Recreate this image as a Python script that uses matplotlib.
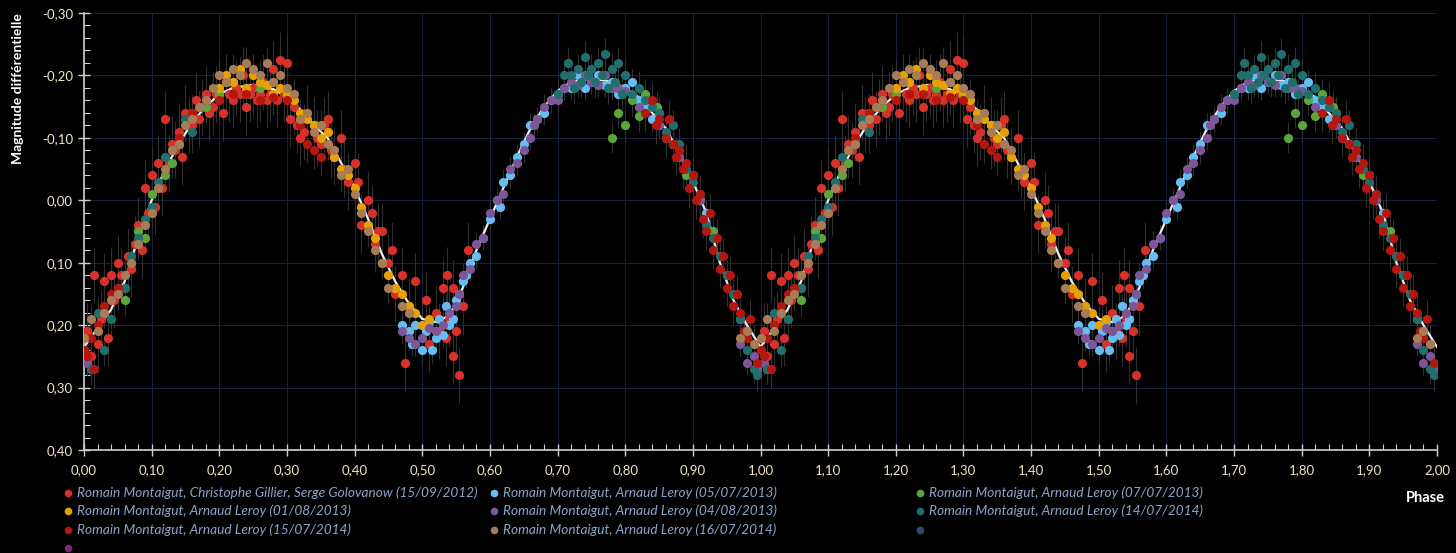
import matplotlib
matplotlib.use("Agg")
from matplotlib import pyplot as plt
from matplotlib.ticker import MultipleLocator, FuncFormatter
from matplotlib.lines import Line2D

# mean light curve (white line), phase 0..1, repeated for 1..2
fit_phase = [0.00, 0.02, 0.04, 0.06, 0.08, 0.10, 0.12, 0.14, 0.16, 0.18, 0.20, 0.22, 0.25,
             0.28, 0.30, 0.32, 0.34, 0.36, 0.38, 0.40, 0.42, 0.44, 0.46, 0.48, 0.50, 0.52,
             0.54, 0.56, 0.58, 0.60, 0.62, 0.64, 0.66, 0.68, 0.70, 0.72, 0.75, 0.78, 0.80,
             0.82, 0.84, 0.86, 0.88, 0.90, 0.92, 0.94, 0.96, 0.98, 1.00]
fit_mag = [0.235, 0.205, 0.175, 0.13, 0.06, 0.00, -0.05, -0.09, -0.125, -0.15, -0.17, -0.18, -0.185,
           -0.178, -0.165, -0.145, -0.12, -0.10, -0.06, -0.02, 0.03, 0.085, 0.13, 0.165, 0.19, 0.195,
           0.185, 0.14, 0.08, 0.03, -0.02, -0.07, -0.115, -0.15, -0.175, -0.19, -0.195, -0.19, -0.18,
           -0.165, -0.14, -0.115, -0.075, -0.03, 0.02, 0.10, 0.16, 0.20, 0.235]

# observing sessions (phase, differential magnitude)
red2012_phase = [0.005, 0.01, 0.015, 0.02, 0.025, 0.03, 0.035, 0.04, 0.045, 0.05, 0.055, 0.06, 0.065,
                 0.07, 0.075, 0.08, 0.085, 0.09, 0.095, 0.10, 0.105, 0.11, 0.115, 0.12, 0.125, 0.13,
                 0.14, 0.145, 0.15, 0.16, 0.165, 0.17, 0.18, 0.19, 0.20, 0.205, 0.21, 0.22, 0.23,
                 0.235, 0.24, 0.25, 0.26, 0.265, 0.27, 0.28, 0.285, 0.29, 0.295, 0.30, 0.305, 0.31,
                 0.32, 0.33, 0.34, 0.35, 0.36, 0.37, 0.38, 0.39, 0.40, 0.41, 0.42, 0.43, 0.44, 0.45,
                 0.46, 0.47, 0.475, 0.48, 0.49, 0.50, 0.505, 0.51, 0.52, 0.525, 0.53, 0.535, 0.537,
                 0.54, 0.545, 0.545, 0.55, 0.555, 0.56, 0.568,
                 0.135, 0.155, 0.175, 0.185, 0.195, 0.215, 0.225, 0.245, 0.255, 0.275, 0.315, 0.325,
                 0.345, 0.355, 0.365, 0.385, 0.405, 0.425, 0.435, 0.455]
red2012_mag = [0.21, 0.25, 0.12, 0.23, 0.19, 0.13, 0.22, 0.12, 0.16, 0.10, 0.12, 0.14, 0.09,
               0.11, 0.07, 0.04, 0.08, -0.02, 0.02, -0.04, 0.01, -0.06, -0.02, -0.13, -0.06, -0.09,
               -0.11, -0.07, -0.14, -0.12, -0.16, -0.13, -0.17, -0.15, -0.18, -0.14, -0.19, -0.16, -0.17,
               -0.20, -0.15, -0.18, -0.17, -0.19, -0.16, -0.21, -0.16, -0.225, -0.17, -0.22, -0.13, -0.15,
               -0.10, -0.14, -0.12, -0.09, -0.13, -0.07, -0.10, -0.03, -0.06, 0.04, 0.00, 0.07, 0.05, 0.10,
               0.15, 0.12, 0.26, 0.17, 0.13, 0.20, 0.16, 0.23, 0.18, 0.21, 0.14, 0.22, 0.12,
               0.19, 0.25, 0.14, 0.21, 0.28, 0.17, 0.08,
               -0.08, -0.12, -0.15, -0.14, -0.17, -0.17, -0.18, -0.17, -0.16, -0.17, -0.12, -0.11,
               -0.10, -0.12, -0.08, -0.05, -0.03, 0.02, 0.05, 0.08]

lblue_phase = [0.47, 0.48, 0.485, 0.49, 0.50, 0.505, 0.51, 0.515, 0.52, 0.525, 0.53, 0.535, 0.54,
               0.545, 0.55, 0.555, 0.56, 0.565, 0.57, 0.58, 0.59, 0.60, 0.61, 0.615, 0.62, 0.63,
               0.64, 0.65, 0.66, 0.67, 0.68, 0.69, 0.70, 0.71, 0.72, 0.73, 0.74, 0.75, 0.76, 0.77,
               0.78, 0.79, 0.80, 0.81, 0.82, 0.83, 0.84, 0.85, 0.86, 0.87, 0.90, 0.92]
lblue_mag = [0.20, 0.21, 0.23, 0.20, 0.24, 0.21, 0.195, 0.24, 0.22, 0.19, 0.215, 0.17, 0.20,
             0.19, 0.16, 0.15, 0.13, 0.12, 0.10, 0.09, 0.06, 0.03, 0.00, 0.01, -0.03, -0.04,
             -0.07, -0.09, -0.12, -0.13, -0.14, -0.16, -0.17, -0.18, -0.18, -0.20, -0.18, -0.19, -0.20, -0.185,
             -0.19, -0.17, -0.18, -0.19, -0.16, -0.15, -0.13, -0.12, -0.10, -0.09, -0.04, 0.02]

green_phase = [0.06, 0.08, 0.09, 0.10, 0.12, 0.13, 0.14, 0.16, 0.18, 0.20, 0.22, 0.24, 0.26, 0.28,
               0.30, 0.32, 0.34, 0.78, 0.79, 0.80, 0.81, 0.82, 0.83, 0.847, 0.85, 0.87, 0.89, 0.91,
               0.93, 0.95, 0.97]
green_mag = [0.16, 0.05, 0.06, -0.01, -0.04, -0.06, -0.09, -0.14, -0.15, -0.17, -0.19, -0.17, -0.18, -0.19,
             -0.17, -0.13, -0.12, -0.10, -0.14, -0.12, -0.16, -0.135, -0.17, -0.15, -0.14, -0.09, -0.04, 0.00,
             0.05, 0.12, 0.19]

orange_phase = [0.20, 0.21, 0.22, 0.23, 0.24, 0.25, 0.26, 0.27, 0.28, 0.29, 0.30, 0.31, 0.32, 0.33,
                0.34, 0.35, 0.36, 0.37, 0.38, 0.39, 0.40, 0.41, 0.42, 0.43, 0.44, 0.45, 0.46, 0.47,
                0.48, 0.49, 0.50, 0.51, 0.52]
orange_mag = [-0.18, -0.20, -0.19, -0.21, -0.18, -0.20, -0.19, -0.185, -0.17, -0.18, -0.17, -0.16, -0.14, -0.13,
              -0.12, -0.10, -0.11, -0.07, -0.05, -0.04, -0.02, 0.01, 0.04, 0.06, 0.10, 0.12, 0.14, 0.15,
              0.17, 0.18, 0.20, 0.19, 0.21]

purple_phase = [0.47, 0.48, 0.49, 0.50, 0.51, 0.52, 0.53, 0.54, 0.55, 0.555, 0.56, 0.57, 0.58, 0.59,
                0.60, 0.61, 0.62, 0.63, 0.64, 0.65, 0.66, 0.665, 0.67, 0.68, 0.69, 0.70, 0.71, 0.72,
                0.73, 0.74, 0.75, 0.76, 0.77, 0.78, 0.79, 0.80, 0.82, 0.85, 0.88, 0.91, 0.97, 0.98,
                0.99, 0.995, 0.005, 0.01]
purple_mag = [0.21, 0.22, 0.23, 0.22, 0.205, 0.21, 0.20, 0.18, 0.17, 0.15, 0.12, 0.11, 0.07, 0.06,
              0.02, 0.00, -0.01, -0.05, -0.06, -0.08, -0.10, -0.12, -0.13, -0.15, -0.16, -0.16, -0.18, -0.19,
              -0.185, -0.20, -0.19, -0.185, -0.20, -0.18, -0.18, -0.175, -0.15, -0.12, -0.07, 0.00, 0.23, 0.26,
              0.25, 0.27, 0.26, 0.27]

teal_phase = [0.70, 0.71, 0.715, 0.72, 0.725, 0.73, 0.735, 0.74, 0.745, 0.75, 0.755, 0.76, 0.765,
              0.77, 0.775, 0.78, 0.785, 0.79, 0.795, 0.80, 0.81, 0.82, 0.83, 0.84, 0.85, 0.86, 0.87,
              0.88, 0.89, 0.90, 0.91, 0.92, 0.93, 0.94, 0.95, 0.96, 0.97, 0.98, 0.99, 0.995, 0.01,
              0.02, 0.03, 0.04, 0.05, 0.06, 0.07, 0.08, 0.09, 0.10, 0.11, 0.12, 0.13, 0.14, 0.15, 0.16]
teal_mag = [-0.17, -0.20, -0.22, -0.20, -0.18, -0.21, -0.19, -0.23, -0.20, -0.21, -0.19, -0.22, -0.20,
            -0.235, -0.18, -0.21, -0.19, -0.22, -0.17, -0.20, -0.17, -0.18, -0.16, -0.15, -0.14, -0.11, -0.12,
            -0.09, -0.05, -0.03, -0.01, 0.04, 0.06, 0.09, 0.12, 0.15, 0.19, 0.24, 0.27, 0.28, 0.27,
            0.18, 0.24, 0.19, 0.14, 0.14, 0.09, 0.06, 0.03, 0.01, -0.03, -0.07, -0.08, -0.10, -0.13, -0.11]

dred_phase = [0.83, 0.84, 0.845, 0.85, 0.86, 0.865, 0.87, 0.875, 0.88, 0.885, 0.89, 0.895, 0.90,
              0.905, 0.91, 0.915, 0.92, 0.925, 0.93, 0.935, 0.94, 0.945, 0.95, 0.955, 0.96, 0.965,
              0.97, 0.975, 0.98, 0.985, 0.99, 0.995, 0.0, 0.005, 0.01, 0.015, 0.02, 0.03, 0.04, 0.05,
              0.14, 0.16, 0.18, 0.20, 0.22, 0.24, 0.26, 0.28, 0.30, 0.32, 0.33, 0.34, 0.35]
dred_mag = [-0.14, -0.16, -0.12, -0.13, -0.10, -0.13, -0.09, -0.07, -0.08, -0.05, -0.06, -0.02, -0.04,
            0.00, -0.01, 0.03, 0.05, 0.02, 0.08, 0.06, 0.11, 0.09, 0.14, 0.12, 0.17, 0.15,
            0.18, 0.21, 0.22, 0.19, 0.23, 0.26, 0.24, 0.25, 0.22, 0.27, 0.20, 0.17, 0.15, 0.14,
            -0.10, -0.14, -0.16, -0.16, -0.17, -0.17, -0.16, -0.165, -0.16, -0.12, -0.09, -0.08, -0.07]

brown_phase = [0.00, 0.01, 0.02, 0.03, 0.04, 0.05, 0.06, 0.07, 0.08, 0.09, 0.10, 0.11, 0.12, 0.13,
               0.14, 0.15, 0.16, 0.17, 0.18, 0.19, 0.20, 0.21, 0.22, 0.23, 0.24, 0.25, 0.26, 0.27,
               0.28, 0.29, 0.30, 0.31, 0.32, 0.33, 0.34, 0.35, 0.36, 0.37, 0.38, 0.39, 0.40, 0.41,
               0.42, 0.43, 0.44, 0.45, 0.47, 0.48, 0.97, 0.98, 0.99]
brown_mag = [0.22, 0.19, 0.21, 0.18, 0.16, 0.15, 0.12, 0.10, 0.07, 0.04, 0.02, -0.02, -0.05, -0.08,
             -0.09, -0.12, -0.13, -0.15, -0.16, -0.18, -0.20, -0.19, -0.21, -0.20, -0.22, -0.21, -0.20, -0.22,
             -0.19, -0.20, -0.18, -0.17, -0.13, -0.14, -0.11, -0.12, -0.09, -0.08, -0.04, -0.05, -0.01, 0.02,
             0.05, 0.08, 0.10, 0.14, 0.17, 0.18, 0.22, 0.21, 0.23]

series = [
    ("Romain Montaigut, Christophe Gillier, Serge Golovanow (15/09/2012)", "#d8302a", red2012_phase, red2012_mag, 0.045),
    ("Romain Montaigut, Arnaud Leroy (05/07/2013)", "#66bdf4", lblue_phase, lblue_mag, 0.02),
    ("Romain Montaigut, Arnaud Leroy (07/07/2013)", "#5ba63a", green_phase, green_mag, 0.025),
    ("Romain Montaigut, Arnaud Leroy (01/08/2013)", "#e6a205", orange_phase, orange_mag, 0.02),
    ("Romain Montaigut, Arnaud Leroy (04/08/2013)", "#7d5698", purple_phase, purple_mag, 0.02),
    ("Romain Montaigut, Arnaud Leroy (14/07/2014)", "#216f6d", teal_phase, teal_mag, 0.025),
    ("Romain Montaigut, Arnaud Leroy (15/07/2014)", "#b3170f", dred_phase, dred_mag, 0.03),
    ("Romain Montaigut, Arnaud Leroy (16/07/2014)", "#a87c56", brown_phase, brown_mag, 0.025),
    ("", "#2e4a72", [], [], 0.0),
    ("", "#7a2a78", [], [], 0.0),
]

W, H = 1456, 553
fig = plt.figure(figsize=(W / 100, H / 100), dpi=100, facecolor="black")
ax = fig.add_axes([84 / W, 1 - 450 / H, (1437 - 84) / W, (450 - 13) / H])
ax.set_facecolor("black")

fx = fit_phase + [p + 1 for p in fit_phase[1:]]
fy = fit_mag + fit_mag[1:]
ax.plot(fx, fy, color="#eeeeee", lw=1.6, zorder=2)

for name, col, ph, mg, err in series:
    if not ph:
        continue
    x = ph + [p + 1 for p in ph]
    y = mg + mg
    ax.errorbar(x, y, yerr=err, fmt="none", ecolor="#303030", elinewidth=0.8, zorder=1)
    ax.plot(x, y, "o", color=col, markersize=6.6, markeredgewidth=0, zorder=3)

ax.set_xlim(0, 2)
ax.set_ylim(0.40, -0.30)
ax.xaxis.set_major_locator(MultipleLocator(0.1))
ax.xaxis.set_minor_locator(MultipleLocator(0.02))
ax.yaxis.set_major_locator(MultipleLocator(0.1))
ax.yaxis.set_minor_locator(MultipleLocator(0.02))
fmt = FuncFormatter(lambda v, pos: ("%.2f" % v).replace(".", ",").replace("-0,00", "0,00"))
ax.xaxis.set_major_formatter(fmt)
ax.yaxis.set_major_formatter(fmt)
ax.grid(True, which="major", color="#17223a", lw=0.8, zorder=0)
ax.set_axisbelow(True)
for s in ["top", "right"]:
    ax.spines[s].set_visible(False)
for s in ["left", "bottom"]:
    ax.spines[s].set_color("#d0d0d0")
    ax.spines[s].set_linewidth(1.2)
ax.tick_params(which="major", direction="inout", length=8, width=1, color="#d0d0d0",
               labelcolor="#efe3c8", labelsize=9.5)
ax.tick_params(which="minor", direction="in", length=4, width=0.8, color="#d0d0d0")
ax.tick_params(axis="x", pad=6)
ax.tick_params(axis="y", pad=4)
for lab in ax.get_xticklabels() + ax.get_yticklabels():
    lab.set_family("Lato")

fig.text(18 / W, 1 - 89 / H, "Magnitude différentielle", rotation=90, color="white",
         fontsize=10, fontweight="bold", family="Lato", ha="center", va="center")
fig.text(1425 / W, 1 - 498 / H, "Phase", color="white", fontsize=10.5, fontweight="bold",
         family="Lato", ha="center", va="center")

# legend: three fixed-width columns, filled row by row
col_x = [68, 494, 920]
row_y = [493, 511, 530, 548]
for i, (name, col, ph, mg, err) in enumerate(series):
    r, c = divmod(i, 3)
    fig.add_artist(Line2D([col_x[c] / W], [1 - row_y[r] / H], marker="o", color=col,
                          markersize=5.5, markeredgewidth=0, linestyle="none"))
    if name:
        fig.text((col_x[c] + 9) / W, 1 - row_y[r] / H, name, color="#8ca5c8", fontsize=9.8,
                 style="italic", family="Lato", ha="left", va="center")

fig.savefig("out.png", dpi=100, facecolor="black")
